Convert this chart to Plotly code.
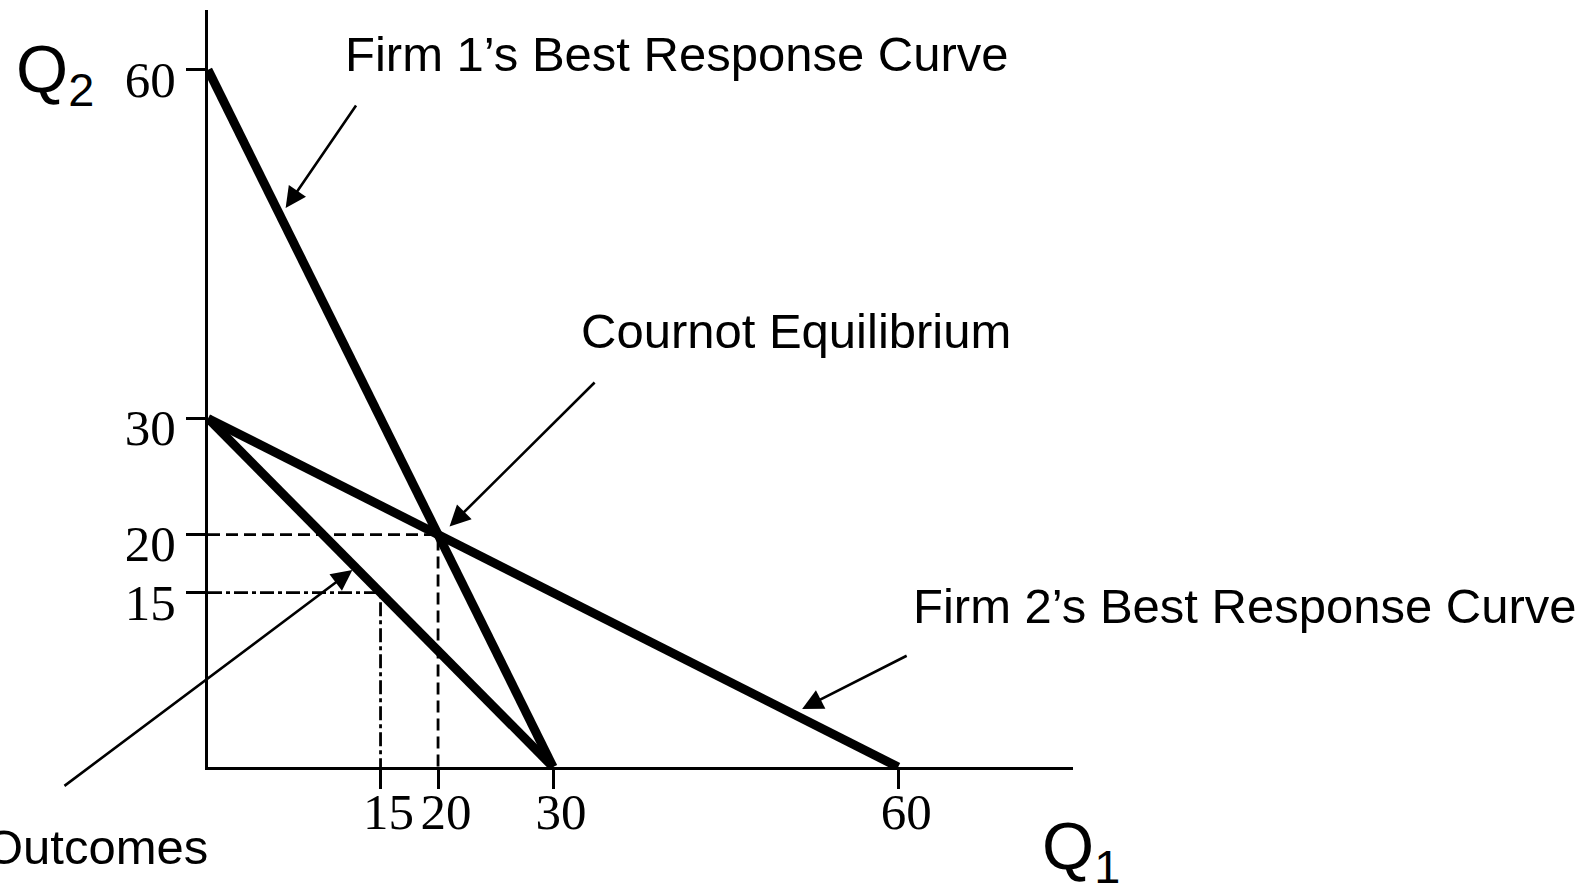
import plotly.graph_objects as go

# ---------------- data ----------------
firm1_q1 = [0, 30]
firm1_q2 = [60, 0]
firm2_q1 = [0, 60]
firm2_q2 = [30, 0]
collusion_q1 = [0, 30]
collusion_q2 = [30, 0]
cournot_q1 = 20
cournot_q2 = 20
collusive_q1 = 15
collusive_q2 = 15
x_ticks = [15, 20, 30, 60]
y_ticks = [15, 20, 30, 60]

# ---------------- layout geometry ----------------
W, H = 1591, 888
L, R, T, B = 208, 518, 10, 121
X_MAX = 75.2
Y_MAX = 65.15

fig = go.Figure()

# guide lines (dashed / dash-dot)
fig.add_trace(go.Scatter(
    x=[0, cournot_q1, cournot_q1], y=[cournot_q2, cournot_q2, 0],
    mode="lines", line=dict(color="black", width=2.8, dash="12px,6px"),
    hoverinfo="skip", showlegend=False))
fig.add_trace(go.Scatter(
    x=[0, collusive_q1, collusive_q1], y=[collusive_q2, collusive_q2, 0],
    mode="lines", line=dict(color="black", width=2.8, dash="14px,4px,4px,4px"),
    hoverinfo="skip", showlegend=False))

# best response curves and collusion line
for xs, ys in [(firm1_q1, firm1_q2), (firm2_q1, firm2_q2), (collusion_q1, collusion_q2)]:
    fig.add_trace(go.Scatter(x=xs, y=ys, mode="lines",
                             line=dict(color="black", width=9),
                             hoverinfo="skip", showlegend=False))

serif = "Liberation Serif, Times New Roman, serif"
sans = "Liberation Sans, Arial, sans-serif"

axis_common = dict(
    showgrid=False, zeroline=False, showline=True, linecolor="black", linewidth=3,
    ticks="outside", ticklen=19, tickwidth=3, tickcolor="black",
    tickfont=dict(family=serif, size=51, color="black"),
    fixedrange=True,
)

fig.update_xaxes(range=[0, X_MAX], tickvals=x_ticks, ticktext=[str(v) for v in x_ticks],
                 tickangle=0, ticklabelstandoff=-21, ticklabelshift=8, **axis_common)
fig.update_yaxes(range=[0, Y_MAX], tickvals=y_ticks, ticktext=[str(v) for v in y_ticks],
                 ticklabelstandoff=0, ticklabelshift=9, **axis_common)

def px(x):
    return (x - L) / (W - L - R)

def py(y):
    return (H - B - y) / (H - T - B)

annotations = []
# text labels
labels = [
    ("Firm 1\u2019s Best Response Curve", 343, 54, "left"),
    ("Cournot Equilibrium", 579, 331, "left"),
    ("Firm 2\u2019s Best Response Curve", 911, 606, "left"),
    ("Outcomes", 210, 847, "right"),
]
for txt, x, y, anc in labels:
    annotations.append(dict(text=txt, xref="paper", yref="paper", x=px(x), y=py(y),
                            xanchor=anc, yanchor="middle", showarrow=False,
                            font=dict(family=sans, size=49, color="black")))

annotations.append(dict(text="Q<sub>2</sub>", xref="paper", yref="paper", x=px(14), y=py(74),
                        xanchor="left", yanchor="middle", showarrow=False,
                        font=dict(family=sans, size=67, color="black")))
annotations.append(dict(text="Q<sub>1</sub>", xref="paper", yref="paper", x=px(1040), y=py(850),
                        xanchor="left", yanchor="middle", showarrow=False,
                        font=dict(family=sans, size=67, color="black")))

# pointer arrows (head in data units, tail in data units)
arrows = [
    ((6.75, 48.1), (12.96, 57.06)),     # firm 1 curve
    ((21.0, 20.7), (33.74, 33.22)),     # Cournot equilibrium
    ((51.65, 5.0), (60.87, 9.64)),      # firm 2 curve
    ((12.55, 16.95), (-12.61, -1.72)),  # collusive outcomes
]
for (hx, hy), (tx, ty) in arrows:
    annotations.append(dict(text="", x=hx, y=hy, ax=tx, ay=ty,
                            xref="x", yref="y", axref="x", ayref="y",
                            showarrow=True, arrowhead=2, arrowsize=1.6, arrowwidth=2.6,
                            arrowcolor="black", standoff=0, startstandoff=0))

fig.update_layout(
    width=W, height=H,
    margin=dict(l=L, r=R, t=T, b=B, pad=0),
    paper_bgcolor="white", plot_bgcolor="white",
    annotations=annotations,
    showlegend=False,
)

fig.write_html("out.html", config={"displayModeBar": False},
               post_script="document.body.style.margin='0px';document.body.style.padding='0px';")
